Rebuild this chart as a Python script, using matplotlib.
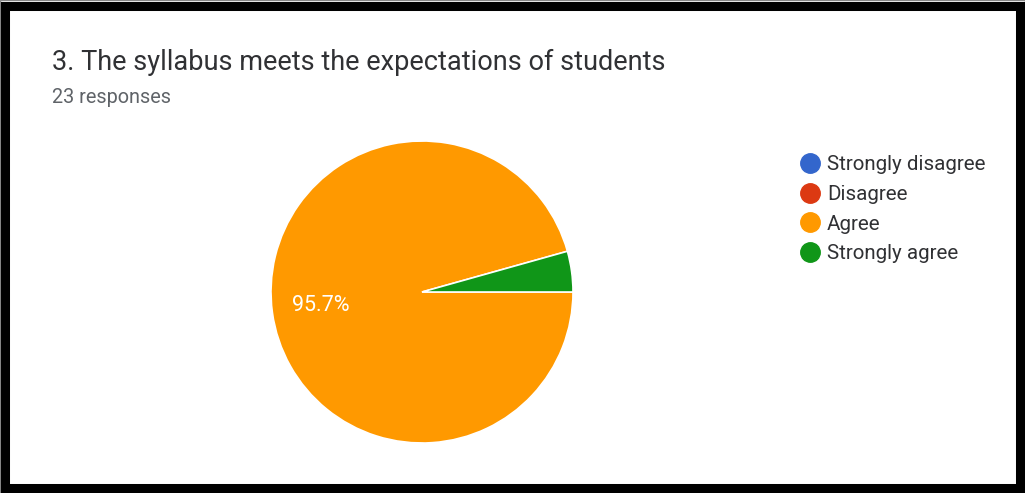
import matplotlib.pyplot as plt
from matplotlib.lines import Line2D
from matplotlib.patches import Rectangle

plt.rcParams['font.family'] = ['Roboto', 'DejaVu Sans']

labels = ['Strongly disagree', 'Disagree', 'Agree', 'Strongly agree']
counts = [0, 0, 22, 1]
colors = ['#3366cc', '#dc3912', '#ff9900', '#109618']
title = '3. The syllabus meets the expectations of students'
subtitle = '23 responses'

W, H = 1025, 493
fig = plt.figure(figsize=(W / 100, H / 100), dpi=100)
fig.patch.set_facecolor('white')

# pie axes placed in pixel terms: center (422, 292), radius 151
cx, cy, r = 422, 292, 151
ax = fig.add_axes([(cx - r) / W, (H - cy - r) / H, 2 * r / W, 2 * r / H])
total = sum(counts)
wedges, texts, autotexts = ax.pie(
    counts, colors=colors, startangle=360 * counts[3] / total,
    counterclock=True, radius=1,
    autopct=lambda p: f'{p:.1f}%' if p > 10 else '',
    pctdistance=0.68,
    wedgeprops=dict(edgecolor='white', linewidth=1.2),
    textprops=dict(color='white', fontsize=15.5))
ax.set_xlim(-1, 1)
ax.set_ylim(-1, 1)
ax.set_aspect('equal')
ax.axis('off')

fig.text(52 / W, 1 - 62 / H, title, fontsize=19.5, color='#303134', va='center', ha='left')
fig.text(52 / W, 1 - 97 / H, subtitle, fontsize=14.3, color='#5f6368', va='center', ha='left')

handles = [Line2D([], [], marker='o', linestyle='', markersize=14,
                  markerfacecolor=c, markeredgecolor=c) for c in colors]
fig.legend(handles, labels, loc='upper left', bbox_to_anchor=(787 / W, 1 - 145 / H),
           frameon=False, fontsize=14.8, labelcolor='#303134',
           handletextpad=0.25, labelspacing=0.52, borderpad=0, handlelength=1.2)

# black frame
fig.patches.append(Rectangle((0, 0), 1, 1, transform=fig.transFigure, fill=False,
                             edgecolor='#888888', linewidth=1))
fig.patches.append(Rectangle((4.5 / W, 5.5 / H), (1020 - 4.5) / W, (487.5 - 5.5) / H,
                             transform=fig.transFigure, fill=False,
                             edgecolor='black', linewidth=6.5))

fig.savefig('out.png', dpi=100)
